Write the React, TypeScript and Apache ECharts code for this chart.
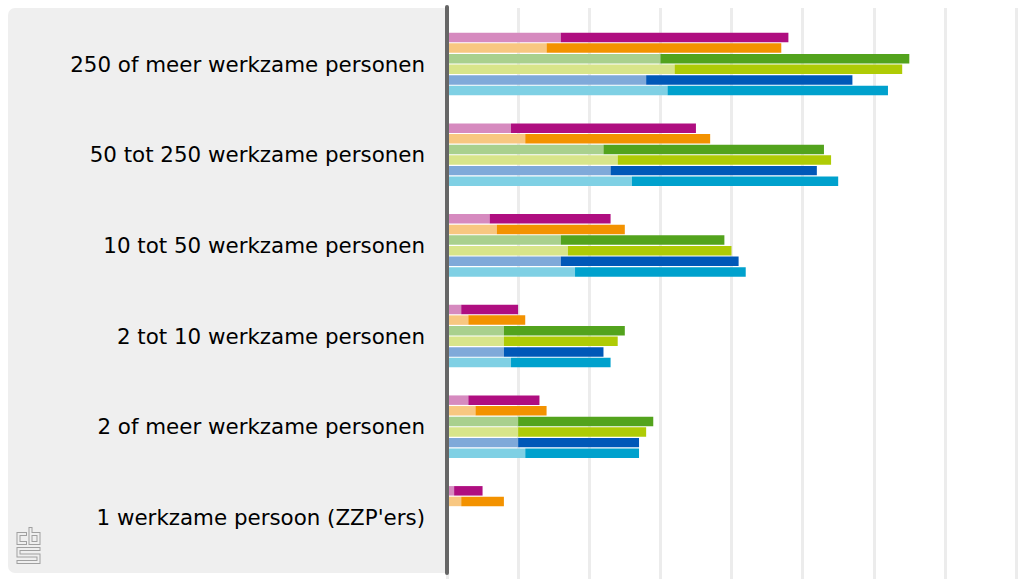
import { useEffect, useRef } from 'react';
import * as echarts from 'echarts';

const categories = [
  '250 of meer werkzame personen',
  '50 tot 250 werkzame personen',
  '10 tot 50 werkzame personen',
  '2 tot 10 werkzame personen',
  '2 of meer werkzame personen',
  "1 werkzame persoon (ZZP'ers)",
];

const seriesNames = ['Reeks 1', 'Reeks 2', 'Reeks 3', 'Reeks 4', 'Reeks 5', 'Reeks 6'];

// light (first) part and full length of each bar
const magentaLight = [16, 9, 6, 2, 3, 1];
const magentaTotal = [48, 35, 23, 10, 13, 5];
const orangeLight = [14, 11, 7, 3, 4, 2];
const orangeTotal = [47, 37, 25, 11, 14, 8];
const greenLight = [30, 22, 16, 8, 10, null];
const greenTotal = [65, 53, 39, 25, 29, null];
const limeLight = [32, 24, 17, 8, 10, null];
const limeTotal = [64, 54, 40, 24, 28, null];
const blueLight = [28, 23, 16, 8, 10, null];
const blueTotal = [57, 52, 41, 22, 27, null];
const cyanLight = [31, 26, 18, 9, 11, null];
const cyanTotal = [62, 55, 42, 23, 27, null];

const lightSets = [magentaLight, orangeLight, greenLight, limeLight, blueLight, cyanLight];
const totalSets = [magentaTotal, orangeTotal, greenTotal, limeTotal, blueTotal, cyanTotal];

const lightColors = ['#d68abf', '#f8c781', '#a9d08e', '#d8e58a', '#7fa9d9', '#7fd0e4'];
const darkColors = ['#af0e80', '#f39200', '#53a31d', '#afcb05', '#0058b8', '#00a1cd'];

const axisMin = 0;
const axisMax = 80;
const axisInterval = 10;

const logoC = [[25, 534], [18.5, 534], [18.5, 543], [25, 543]];
const logoB = [[30.5, 529], [30.5, 543], [38.5, 543], [38.5, 534], [30.5, 534]];
const logoS = [[38.5, 549], [18.5, 549], [18.5, 555.5], [38.5, 555.5], [38.5, 562], [18.5, 562]];

export default function App() {
  const ref = useRef<HTMLDivElement>(null);

  useEffect(() => {
    if (!ref.current) return;
    const chart = echarts.init(ref.current, null, { renderer: 'svg' });

    const series: any[] = [];
    lightSets.forEach((light, i) => {
      const total = totalSets[i];
      series.push({
        type: 'bar',
        name: seriesNames[i] + ' a',
        stack: 's' + i,
        xAxisIndex: 0,
        yAxisIndex: 0,
        data: light,
        itemStyle: { color: lightColors[i] },
        barCategoryGap: '31%',
        barGap: '12%',
        z: 2,
      });
      series.push({
        type: 'bar',
        name: seriesNames[i] + ' b',
        stack: 's' + i,
        xAxisIndex: 0,
        yAxisIndex: 0,
        data: total.map((t, k) => (t == null || light[k] == null ? null : (t as number) - (light[k] as number))),
        itemStyle: { color: darkColors[i] },
        barCategoryGap: '31%',
        barGap: '12%',
        z: 2,
      });
    });

    const logoEls: any[] = [];
    [logoC, logoB, logoS].forEach((pts) => {
      logoEls.push({
        type: 'polyline',
        shape: { points: pts },
        style: { stroke: '#a0a0a0', lineWidth: 4, fill: null, lineCap: 'square', lineJoin: 'miter' },
        z: 3,
      });
      logoEls.push({
        type: 'polyline',
        shape: { points: pts },
        style: { stroke: '#efefef', lineWidth: 2, fill: null, lineCap: 'square', lineJoin: 'miter' },
        z: 4,
      });
    });

    const option: any = {
      animation: false,
      backgroundColor: '#ffffff',
      graphic: [
        {
          type: 'rect',
          shape: { x: 8, y: 8, width: 438, height: 565, r: [7, 0, 0, 7] },
          style: { fill: '#efefef' },
          z: 0,
        },
        ...logoEls,
      ],
      grid: [
        { left: 447, right: 2, top: 18.7, height: 544, containLabel: false },
        { left: 447, right: 2, top: 8, bottom: 0, containLabel: false },
        { left: 447, right: 2, top: 7, bottom: 6, containLabel: false },
      ],
      xAxis: [
        {
          type: 'value', gridIndex: 0, min: axisMin, max: axisMax, interval: axisInterval,
          axisLine: { show: false }, axisTick: { show: false }, axisLabel: { show: false }, splitLine: { show: false },
        },
        {
          type: 'value', gridIndex: 1, min: axisMin, max: axisMax, interval: axisInterval,
          axisLine: { show: false }, axisTick: { show: false }, axisLabel: { show: false },
          splitLine: { show: true, lineStyle: { color: '#ececec', width: 3 } },
        },
        {
          type: 'value', gridIndex: 2, min: axisMin, max: axisMax, interval: axisInterval,
          axisLine: { show: false }, axisTick: { show: false }, axisLabel: { show: false }, splitLine: { show: false },
        },
      ],
      yAxis: [
        {
          type: 'category', gridIndex: 0, data: categories, inverse: true,
          axisLine: { show: false }, axisTick: { show: false },
          axisLabel: {
            fontSize: 21.4, fontFamily: 'DejaVu Sans', color: '#000000', margin: 22,
            padding: [4, 0, 0, 0],
          },
          z: 5,
        },
        {
          type: 'category', gridIndex: 1, data: categories, inverse: true,
          axisLine: { show: false }, axisTick: { show: false }, axisLabel: { show: false }, splitLine: { show: false },
        },
        {
          type: 'category', gridIndex: 2, data: categories, inverse: true,
          axisLine: { show: true, lineStyle: { color: '#666666', width: 4 } },
          axisTick: { show: false }, axisLabel: { show: false }, splitLine: { show: false },
          z: 10,
        },
      ],
      series,
    };

    chart.setOption(option);
    return () => chart.dispose();
  }, []);

  return (
    <div
      ref={ref}
      style={{ position: 'absolute', left: 0, top: 0, width: 1018, height: 579 }}
    />
  );
}
